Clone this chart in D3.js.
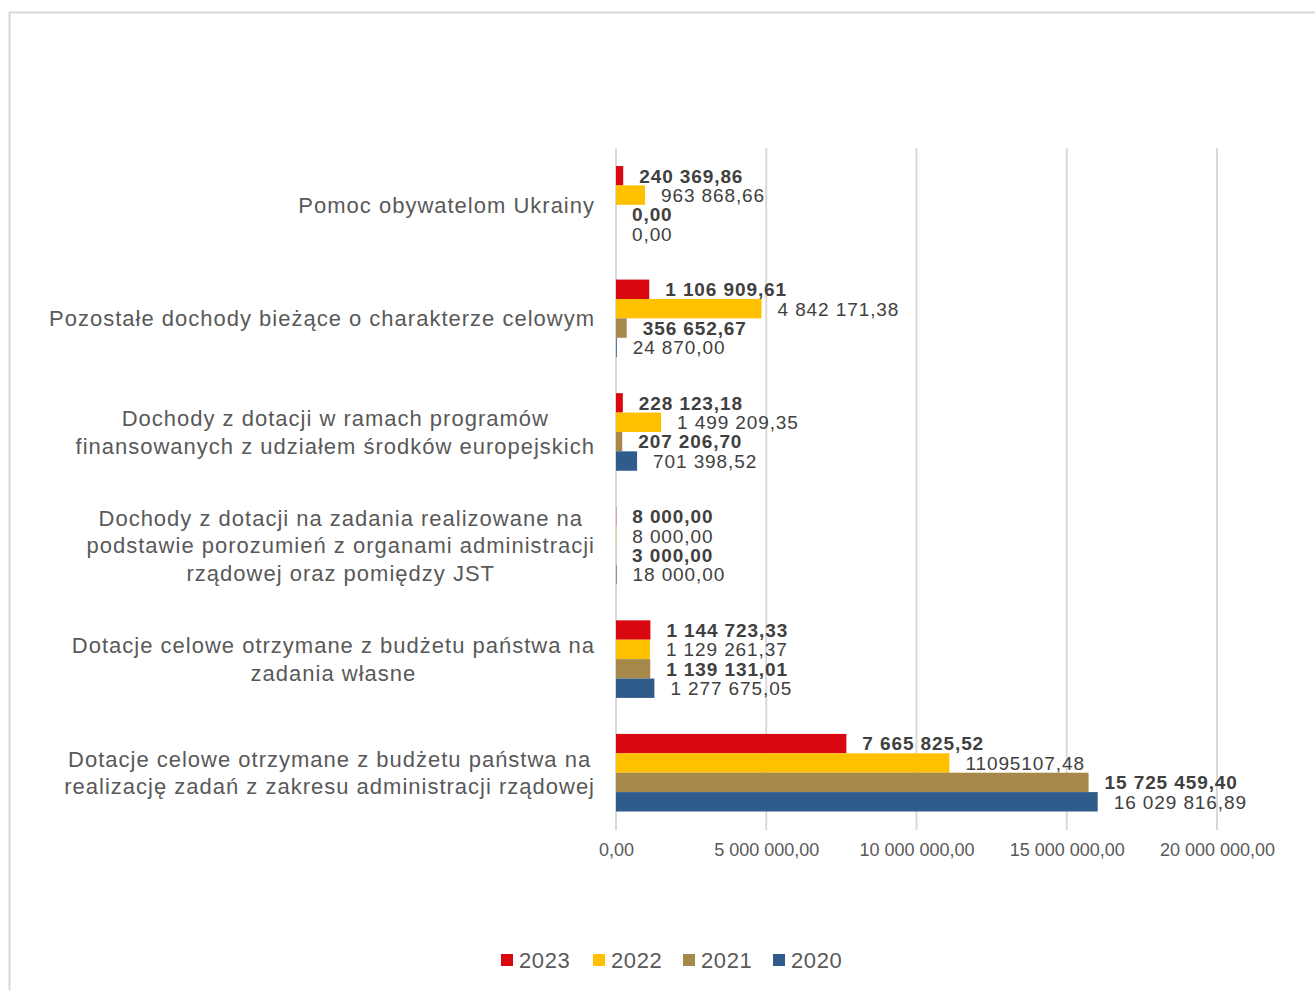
<!DOCTYPE html>
<html>
<head>
<meta charset="utf-8">
<script src="https://cdnjs.cloudflare.com/ajax/libs/d3/7.8.5/d3.min.js"></script>
<style>
  body { margin: 0; background: #fff; }
  svg { display: block; font-family: "Liberation Sans", Arial, sans-serif; }
</style>
</head>
<body>
<svg id="chart" width="1315" height="990"></svg>
<script>
// categories, top to bottom (each entry = label lines)
var categories = [
  ["Pomoc obywatelom Ukrainy"],
  ["Pozostałe dochody bieżące o charakterze celowym"],
  ["Dochody z dotacji w ramach programów", "finansowanych z udziałem środków europejskich"],
  ["Dochody z dotacji na zadania realizowane na", "podstawie porozumień z organami administracji", "rządowej oraz pomiędzy JST"],
  ["Dotacje celowe otrzymane z budżetu państwa na", "zadania własne"],
  ["Dotacje celowe otrzymane z budżetu państwa na", "realizację zadań z zakresu administracji rządowej"]
];

var years = ["2023", "2022", "2021", "2020"];
var colors = ["#d9070f", "#ffc000", "#a6884a", "#2f5c8a"];

var values2023 = [240369.86, 1106909.61, 228123.18, 8000.00, 1144723.33, 7665825.52];
var values2022 = [963868.66, 4842171.38, 1499209.35, 8000.00, 1129261.37, 11095107.48];
var values2021 = [0.00, 356652.67, 207206.70, 3000.00, 1139131.01, 15725459.40];
var values2020 = [0.00, 24870.00, 701398.52, 18000.00, 1277675.05, 16029816.89];

var labels2023 = ["240 369,86", "1 106 909,61", "228 123,18", "8 000,00", "1 144 723,33", "7 665 825,52"];
var labels2022 = ["963 868,66", "4 842 171,38", "1 499 209,35", "8 000,00", "1 129 261,37", "11095107,48"];
var labels2021 = ["0,00", "356 652,67", "207 206,70", "3 000,00", "1 139 131,01", "15 725 459,40"];
var labels2020 = ["0,00", "24 870,00", "701 398,52", "18 000,00", "1 277 675,05", "16 029 816,89"];

var tickValues = [0, 5000000, 10000000, 15000000, 20000000];
var tickLabels = ["0,00", "5 000 000,00", "10 000 000,00", "15 000 000,00", "20 000 000,00"];

var seriesValues = [values2023, values2022, values2021, values2020];
var seriesLabels = [labels2023, labels2022, labels2021, labels2020];
var boldSeries = [true, false, true, false];

var svg = d3.select("#chart");

// outer chart border
svg.append("path")
  .attr("d", "M9.5,990 V12.5 H1315")
  .attr("fill", "none")
  .attr("stroke", "#d9d9d9")
  .attr("stroke-width", 2);

var x = d3.scaleLinear().domain([0, 20000000]).range([616, 1217]);
var y = d3.scaleBand()
  .domain(d3.range(categories.length))
  .range([148, 829.5])
  .paddingInner(0.317)
  .paddingOuter(0.1585);
var ySub = d3.scaleBand().domain(d3.range(years.length)).range([0, y.bandwidth()]);

// gridlines
svg.append("g").selectAll("line")
  .data(tickValues)
  .enter().append("line")
  .attr("x1", function (d) { return x(d); })
  .attr("x2", function (d) { return x(d); })
  .attr("y1", 148)
  .attr("y2", 830)
  .attr("stroke", "#d9d9d9")
  .attr("stroke-width", 2);

// x axis labels
var xAxis = d3.axisBottom(x)
  .tickValues(tickValues)
  .tickFormat(function (d, i) { return tickLabels[i]; })
  .tickSize(0)
  .tickPadding(0);

var gx = svg.append("g")
  .attr("transform", "translate(0,843)")
  .call(xAxis);
gx.select(".domain").remove();
gx.selectAll("text")
  .attr("fill", "#595959")
  .style("font-size", "18px")
  .style("font-family", "'Liberation Sans', Arial, sans-serif");

// bars
var groups = svg.append("g").selectAll("g")
  .data(categories)
  .enter().append("g")
  .attr("transform", function (d, i) { return "translate(0," + y(i) + ")"; });

groups.each(function (cat, ci) {
  var g = d3.select(this);
  seriesValues.forEach(function (vals, si) {
    g.append("rect")
      .attr("x", x(0))
      .attr("y", ySub(si))
      .attr("width", x(vals[ci]) - x(0))
      .attr("height", ySub.bandwidth())
      .attr("fill", colors[si]);

    g.append("text")
      .attr("x", x(vals[ci]) + 16)
      .attr("y", ySub(si) + ySub.bandwidth() / 2)
      .attr("dy", "0.36em")
      .attr("fill", "#404040")
      .style("font-size", "19px")
      .style("letter-spacing", "0.9px")
      .style("font-weight", boldSeries[si] ? "bold" : "normal")
      .text(seriesLabels[si][ci]);
  });
});

// category labels
var lineH = 27.5;
groups.each(function (cat, ci) {
  var g = d3.select(this);
  var t = g.append("text")
    .attr("fill", "#595959")
    .style("font-size", "22px")
    .style("letter-spacing", "1px")
    .attr("text-anchor", "middle");
  var cy = y.bandwidth() / 2;
  var top = cy - (cat.length - 1) * lineH / 2;
  cat.forEach(function (line, li) {
    t.append("tspan")
      .attr("y", top + li * lineH)
      .attr("dy", "0.36em")
      .text(line);
  });
  var maxW = 0;
  t.selectAll("tspan").each(function () {
    maxW = Math.max(maxW, this.getComputedTextLength());
  });
  t.selectAll("tspan").attr("x", 595 - maxW / 2);
});

// legend
var legendX = [501, 593, 683, 773];
var legend = svg.append("g").selectAll("g")
  .data(years)
  .enter().append("g")
  .attr("transform", function (d, i) { return "translate(" + legendX[i] + ",954)"; });

legend.append("rect")
  .attr("width", 12)
  .attr("height", 12)
  .attr("fill", function (d, i) { return colors[i]; });

legend.append("text")
  .attr("x", 18)
  .attr("y", 6)
  .attr("dy", "0.36em")
  .attr("fill", "#595959")
  .style("font-size", "22px")
  .style("letter-spacing", "0.6px")
  .text(function (d) { return d; });
</script>
</body>
</html>
